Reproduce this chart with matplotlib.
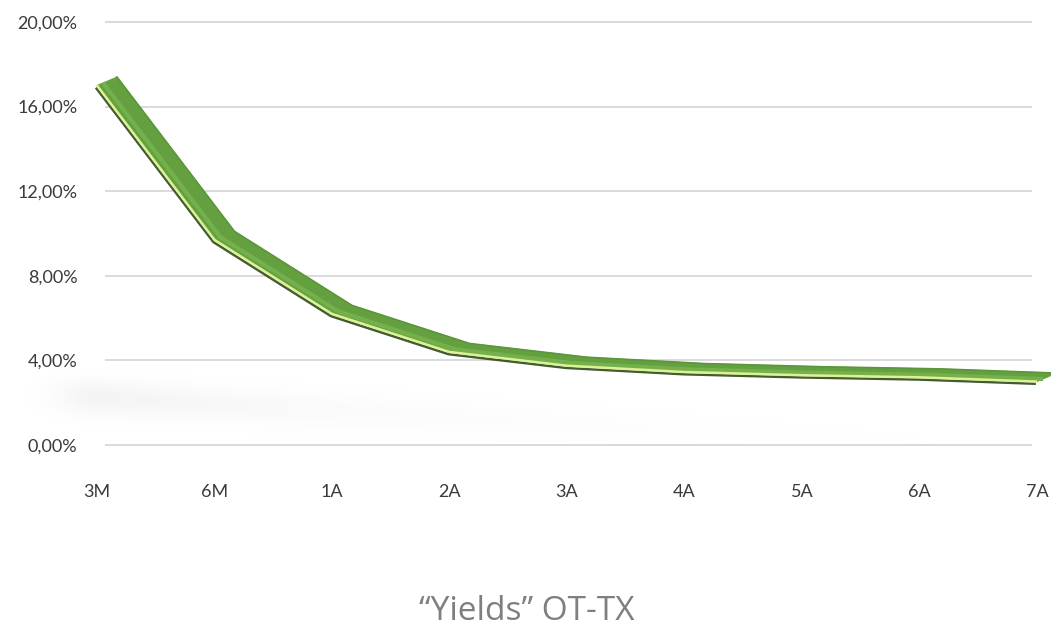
import numpy as np
import matplotlib
matplotlib.use('Agg')
import matplotlib.pyplot as plt
import matplotlib.patheffects as pe

# Dados da curva de rendimentos
prazos = ['3M', '6M', '1A', '2A', '3A', '4A', '5A', '6A', '7A']
yields = [17.0, 9.7, 6.2, 4.4, 3.75, 3.45, 3.3, 3.2, 3.0]
y_ticks = [0, 4, 8, 12, 16, 20]
y_labels = ['0,00%', '4,00%', '8,00%', '12,00%', '16,00%', '20,00%']
titulo = '\u201cYields\u201d OT-TX'

W, H = 1051, 630
fig = plt.figure(figsize=(W / 100, H / 100), dpi=100)
ax = fig.add_axes([97 / W, 185 / H, (1037 - 97) / W, (608 - 185) / H])
ax.set_xlim(0, 8)
ax.set_ylim(0, 20)
for s in ax.spines.values():
    s.set_visible(False)

x = np.arange(len(prazos))
y = np.array(yields)

# grelha horizontal
ax.hlines(y_ticks, 0.07, 7.96, color='#d4d4d4', lw=1.2, zorder=0, clip_on=False)

# sombra difusa por baixo da curva
gx = np.linspace(-0.7, 8.2, 400)
gy = np.linspace(-1, 6, 200)
GX, GY = np.meshgrid(gx, gy)
yc = 2.2 - 0.3 * GX
fade = np.exp(-np.clip(GX, 0, None) / 2.2) * np.exp(-(np.clip(-GX, 0, None) / 0.35) ** 2)
sh = np.exp(-((GY - yc) / 0.8) ** 2) * fade
rgba = np.zeros(sh.shape + (4,))
rgba[..., :3] = 0.55
rgba[..., 3] = np.clip(sh * 0.1, 0, 1)
ax.imshow(rgba, extent=[gx[0], gx[-1], gy[0], gy[-1]], origin='lower',
          aspect='auto', zorder=0.5, interpolation='bilinear', clip_on=False)

# fita 3D: face superior deslocada para cima/direita
dx, dy = 0.17, 0.4
for i in range(len(x) - 1):
    qx = [x[i], x[i + 1], x[i + 1] + dx, x[i] + dx]
    qy = [y[i], y[i + 1], y[i + 1] + dy, y[i] + dy]
    ax.fill(qx, qy, color='#64a040', lw=0.6, ec='#64a040', zorder=2, clip_on=False)
ax.plot(x + dx, y + dy, color='#5b963a', lw=1.2, zorder=2.1, clip_on=False)
ax.plot(x + dx * 0.3, y + dy * 0.3, color='#74b04c', lw=3, zorder=2.2,
        clip_on=False, solid_capstyle='butt')

# aresta frontal clara com sombra escura
ax.plot(x, y, color='#dcf094', lw=1.8, zorder=3, clip_on=False,
        solid_capstyle='butt',
        path_effects=[pe.SimpleLineShadow(offset=(-0.8, -1.6), shadow_color='#2e4a1c', alpha=0.9),
                      pe.Normal()])

ax.set_xticks(x)
ax.set_xticklabels(prazos)
ax.set_yticks(y_ticks)
ax.set_yticklabels(y_labels)
ax.tick_params(length=0, colors='#3a3a3a')
ax.tick_params(axis='y', pad=14)
ax.tick_params(axis='x', pad=28)
for lab in ax.get_xticklabels() + ax.get_yticklabels():
    lab.set_fontfamily('Lato')
    lab.set_fontweight('normal')
    lab.set_fontsize(13)

fig.text(527 / W, 1 - 611 / H, titulo, ha='center', va='center',
         fontsize=24, color='#7f7f7f', family='Open Sans')

fig.savefig('out.png', dpi=100)
